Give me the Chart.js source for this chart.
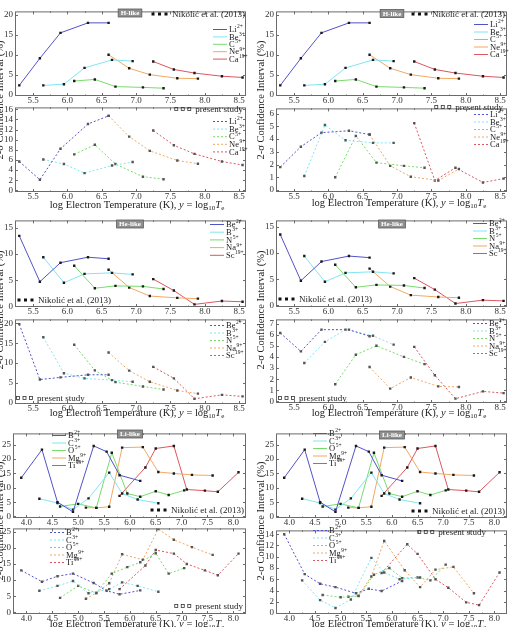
<!DOCTYPE html>
<html>
<head>
<meta charset="utf-8">
<script src="https://cdn.jsdelivr.net/npm/chart.js@4.4.1/dist/chart.umd.min.js"></script>
<style>
  body { margin: 0; background: #fff; width: 509px; height: 627px; overflow: hidden; position: relative; font-family: "Liberation Serif", serif; }
  canvas { position: absolute; }
  .ytitle { position: absolute; white-space: nowrap; font-size: 10.5px; line-height: 1; color: #222; transform: translate(-50%, -50%) rotate(-90deg); }
  .xtitle { position: absolute; white-space: nowrap; font-size: 10.5px; line-height: 1; color: #222; transform: translate(-50%, -50%); }
  .xtitle sub { font-size: 7px; line-height: 0; vertical-align: -2px; }
</style>
</head>
<body>
<script>
// ---- data (log10 Te and 2-sigma CI in %) ----
const hIons = [['Li', '2+'], ['Be', '3+'], ['C', '5+'], ['Ne', '9+'], ['Ca', '19+']]
const heIons = [['Be', '2+'], ['B', '3+'], ['N', '5+'], ['Na', '9+'], ['Sc', '19+']]
const liIons = [['B', '2+'], ['C', '3+'], ['O', '5+'], ['Mg', '9+'], ['Ti', '19+']]

const hTemps = [
  [5.3, 5.6, 5.9, 6.3, 6.6],
  [5.65, 5.95, 6.25, 6.65, 6.95],
  [6.1, 6.4, 6.7, 7.1, 7.4],
  [6.6, 6.9, 7.2, 7.6, 7.9],
  [7.25, 7.55, 7.85, 8.25, 8.55]
]
const heTemps = hTemps
const liTemps = [
  [3.9, 4.3, 4.6, 4.9, 5.3, 5.55, 5.8, 6.2],
  [4.25, 4.6, 4.9, 5.2, 5.6, 5.85, 6.15, 6.55],
  [4.65, 5.0, 5.35, 5.65, 5.95, 6.2, 6.5, 6.75, 7.05],
  [5.15, 5.35, 5.6, 5.85, 6.25, 6.55, 6.85, 7.2, 7.6],
  [5.8, 6.3, 6.5, 6.85, 7.1, 7.45, 7.7, 8.1]
]

const hNikolic = [
  [2.3, 9.1, 15.5, 18.0, 18.0],
  [2.3, 2.6, 6.7, 8.7, 8.4],
  [3.4, 3.8, 2.0, 1.8, 1.6],
  [10.0, 6.6, 5.0, 4.1, 4.0],
  [8.3, 6.3, 5.4, 4.6, 4.3]
]
const hPresentLeft = [
  [5.7, 2.1, 8.2, 13.1, 14.7],
  [6.1, 5.2, 3.4, 4.9, 5.6],
  [7.1, 9.0, 5.2, 2.7, 2.2],
  [14.7, 10.6, 7.8, 5.9, 5.25],
  [11.8, 8.9, 7.2, 5.7, 5.0]
]
const hPresentRight = [
  [1.8, 3.4, 4.5, 4.65, 4.35],
  [1.1, 5.1, 3.9, 3.7, 3.7],
  [1.0, 4.25, 2.15, 1.9, 1.75],
  [4.35, 1.9, 1.05, 0.75, 1.65],
  [5.25, 0.75, 1.75, 0.6, 0.9]
]

const heNikolic = [
  [13.5, 4.7, 8.35, 9.4, 9.1],
  [9.4, 4.5, 6.2, 6.4, 6.1],
  [7.75, 3.45, 3.9, 3.8, 3.3],
  [7.0, 3.6, 1.95, 1.6, 1.45],
  [5.2, 3.0, 0.35, 1.0, 0.85]
]
const hePresentLeft = [
  [19.8, 5.85, 6.4, 7.05, 7.05],
  [16.5, 7.45, 6.15, 5.7, 5.3],
  [14.6, 8.15, 5.2, 4.1, 3.35],
  [12.65, 8.1, 5.3, 3.1, 2.3],
  [9.05, 6.15, 1.0, 2.0, 1.6]
]
const hePresentRight = [
  [6.15, 4.5, 6.45, 6.45, 5.85],
  [3.45, 5.35, 6.45, 5.9, 5.1],
  [1.55, 4.2, 5.0, 4.0, 3.35],
  [3.1, 1.15, 2.15, 1.35, 1.3],
  [4.9, 2.35, 0.25, 0.9, 0.75]
]

const liNikolic = [
  [13.5, 23.3, 5.0, 1.6, 24.6, 22.6, 14.4, 12.4],
  [6.2, 4.7, 2.4, 6.3, 15.3, 8.0, 5.9, 4.6],
  [3.5, 4.4, 3.0, 22.2, 8.0, 6.9, 8.8, 7.5, 9.1],
  [3.1, 3.0, 3.4, 24.0, 24.2, 15.5, 15.0, 14.5, 14.3],
  [7.2, 17.1, 23.7, 24.6, 9.4, 9.0, 8.6, 15.4]
]
const liPresentLeft = [
  [13.0, 9.5, 11.2, 12.0, 9.1, 6.7, 5.6, 6.8],
  [6.7, 8.2, 9.7, 5.9, 7.2, 9.3, 8.2, 6.4],
  [4.5, 8.2, 6.0, 12.0, 14.0, 15.5, 18.3, 12.0, 13.7],
  [4.2, 6.0, 9.0, 18.0, 16.3, 25.8, 22.5, 20.2, 17.8],
  [7.2, 14.5, 19.3, 18.2, 15.0, 13.0, 11.5, 18.2]
]
const liPresentRight = [
  [14.0, 6.9, 5.2, 4.6, 3.5, 4.3, 3.9, 5.7],
  [5.8, 2.3, 0.9, 2.4, 9.8, 7.2, 6.0, 6.3],
  [3.2, 2.8, 3.0, 6.8, 8.0, 6.2, 6.3, 5.8, 8.6],
  [2.9, 3.1, 6.5, 12.8, 7.6, 4.6, 7.7, 8.2, 3.5],
  [7.1, 12.2, 10.5, 6.0, 4.5, 1.9, 1.4, 7.2]
]

const hxTicks = [5.5, 6.0, 6.5, 7.0, 7.5, 8.0, 8.5]
const lixTicks = [4.0, 4.5, 5.0, 5.5, 6.0, 6.5, 7.0, 7.5, 8.0]

// ---- styling ----
const ionColors = ['#5252c8', '#80e6f2', '#78dc6c', '#f2a860', '#dc5660']
const FONT = '"Liberation Serif", serif'
const ML = 22, MT = 3, MR = 3, MB = 12

const decoPlugin = {
  id: 'deco',
  afterDraw (chart, args, o) {
    const { ctx, chartArea: a, scales: { x, y } } = chart
    const ox = o.left, oy = o.top
    ctx.save()
    // frame with inward ticks
    ctx.strokeStyle = '#6b6b6b'
    ctx.lineWidth = 1
    ctx.strokeRect(a.left + 0.5, a.top + 0.5, a.right - a.left - 1, a.bottom - a.top - 1)
    ctx.beginPath()
    const xt = x.ticks.map(t => t.value)
    xt.forEach((v, i) => {
      const px = Math.round(x.getPixelForValue(v)) + 0.5
      ctx.moveTo(px, a.bottom); ctx.lineTo(px, a.bottom - 3)
      ctx.moveTo(px, a.top); ctx.lineTo(px, a.top + 3)
      if (i < xt.length - 1) {
        const mx = Math.round(x.getPixelForValue((v + xt[i + 1]) / 2)) + 0.5
        ctx.moveTo(mx, a.bottom); ctx.lineTo(mx, a.bottom - 1.5)
        ctx.moveTo(mx, a.top); ctx.lineTo(mx, a.top + 1.5)
      }
    })
    y.ticks.forEach(t => {
      const py = Math.round(y.getPixelForValue(t.value)) + 0.5
      ctx.moveTo(a.left, py); ctx.lineTo(a.left + 3, py)
      ctx.moveTo(a.right, py); ctx.lineTo(a.right - 3, py)
    })
    ctx.stroke()

    ctx.textBaseline = 'middle'
    // ion legend
    const L = o.ions
    chart.data.datasets.forEach((ds, i) => {
      const ly = L.y + i * L.dy - oy
      const lx = L.x - ox
      ctx.strokeStyle = ds.borderColor
      ctx.lineWidth = 1
      ctx.setLineDash(o.dashed ? [2, 2] : [])
      ctx.beginPath(); ctx.moveTo(lx, ly + 0.5); ctx.lineTo(lx + 14, ly + 0.5); ctx.stroke()
      ctx.setLineDash([])
      ctx.fillStyle = '#222'
      ctx.textAlign = 'left'
      ctx.font = '8.5px ' + FONT
      ctx.fillText(ds.ion[0], lx + 16, ly + 1)
      const w = ctx.measureText(ds.ion[0]).width
      ctx.font = '5.5px ' + FONT
      ctx.fillText(ds.ion[1], lx + 16 + w + 0.5, ly - 2)
    })

    // reference legend (squares + text)
    const R = o.ref
    ctx.font = '9px ' + FONT
    ctx.fillStyle = '#222'
    const tw = ctx.measureText(R.text).width
    const sqW = 18
    const sx = R.align === 'right' ? R.x - ox - tw - sqW - 3 : R.x - ox
    const ry = R.y - oy
    for (let k = 0; k < 3; k++) {
      const cx = sx + 2 + k * 6.5
      if (R.filled) {
        ctx.fillStyle = '#111'
        ctx.fillRect(cx - 1.5, ry - 1.5, 3, 3)
      } else {
        ctx.strokeStyle = '#333'
        ctx.lineWidth = 0.8
        ctx.strokeRect(cx - 1.5, ry - 1.5, 3, 3)
      }
    }
    ctx.fillStyle = '#222'
    ctx.textAlign = 'left'
    ctx.fillText(R.text, sx + sqW + 3, ry + 0.5)

    // series tag box
    if (o.tag) {
      ctx.font = 'bold 7px ' + FONT
      const w = ctx.measureText(o.tag.text).width + 5
      const tx = o.tag.x - ox, ty = o.tag.y - oy
      ctx.fillStyle = '#8f8f8f'
      ctx.fillRect(tx - w / 2, ty - 4, w, 8)
      ctx.strokeStyle = '#5a5a5a'
      ctx.lineWidth = 0.8
      ctx.strokeRect(tx - w / 2, ty - 4, w, 8)
      ctx.fillStyle = '#fff'
      ctx.textAlign = 'center'
      ctx.fillText(o.tag.text, tx, ty + 0.5)
    }
    ctx.restore()
  }
}

function makePlot (p) {
  const canvas = document.createElement('canvas')
  const left = p.box[0] - ML, top = p.box[1] - MT
  canvas.width = p.box[2] - p.box[0] + ML + MR
  canvas.height = p.box[3] - p.box[1] + MT + MB
  canvas.style.left = left + 'px'
  canvas.style.top = top + 'px'
  document.body.appendChild(canvas)

  const datasets = p.ions.map((ion, i) => ({
    label: ion.join(''),
    ion: ion,
    data: p.temps[i].map((t, j) => ({ x: t, y: p.vals[i][j] })),
    borderColor: ionColors[i],
    borderWidth: 1,
    borderDash: p.dashed ? [2, 2] : [],
    pointStyle: 'rect',
    pointRadius: 1.7,
    pointBackgroundColor: p.dashed ? '#555' : '#1a1a1a',
    pointBorderWidth: 0,
    tension: 0,
    fill: false
  }))

  new Chart(canvas, {
    type: 'line',
    data: { datasets },
    options: {
      responsive: false,
      animation: false,
      devicePixelRatio: 1,
      layout: { autoPadding: false, padding: { left: 0, top: MT, right: MR, bottom: 0 } },
      plugins: {
        legend: { display: false },
        tooltip: { enabled: false },
        deco: { left, top, ions: p.legend, ref: p.ref, tag: p.tag, dashed: p.dashed }
      },
      scales: {
        x: {
          type: 'linear',
          min: p.xr[0],
          max: p.xr[1],
          afterBuildTicks: s => { s.ticks = p.xTicks.map(v => ({ value: v })) },
          afterFit: s => { s.height = MB },
          grid: { display: false, drawTicks: false },
          border: { display: false },
          ticks: { font: { family: FONT, size: 9 }, color: '#333', padding: -1, maxRotation: 0, autoSkip: false, callback: v => v.toFixed(1) }
        },
        y: {
          min: p.yr[0],
          max: p.yr[1],
          afterBuildTicks: s => { s.ticks = p.yTicks.map(v => ({ value: v })) },
          afterFit: s => { s.width = ML },
          grid: { display: false, drawTicks: false },
          border: { display: false },
          ticks: { font: { family: FONT, size: 9 }, color: '#333', padding: 2, autoSkip: false, callback: v => String(v) }
        }
      }
    },
    plugins: [decoPlugin]
  })
}

const range = (a, b, s) => { const r = []; for (let v = a; v <= b + 1e-9; v += s) r.push(v); return r }
const hX = [5.238, 8.6]
const liX = [3.74, 8.245]
const NIK = 'Nikolić et al. (2013)'
const PS = 'present study'

const plots = [
  // H-like
  { box: [15, 7, 246, 96], xr: hX, yr: [-0.36, 20.88], yTicks: range(0, 20, 5), xTicks: hxTicks, ions: hIons, temps: hTemps, vals: hNikolic,
    legend: { x: 213, y: 29, dy: 7.4 }, ref: { text: NIK, x: 245, y: 14, align: 'right', filled: true }, tag: { text: 'H-like', x: 130, y: 13 } },
  { box: [15, 103, 246, 192], xr: hX, yr: [-0.32, 16.37], yTicks: range(0, 16, 2), xTicks: hxTicks, ions: hIons, temps: hTemps, vals: hPresentLeft, dashed: true,
    legend: { x: 213, y: 121, dy: 7.6 }, ref: { text: PS, x: 243, y: 109, align: 'right', filled: false } },
  { box: [276, 7, 507, 96], xr: hX, yr: [-0.36, 20.88], yTicks: range(0, 20, 5), xTicks: hxTicks, ions: hIons, temps: hTemps, vals: hNikolic,
    legend: { x: 474, y: 24, dy: 7.5 }, ref: { text: NIK, x: 505, y: 14, align: 'right', filled: true }, tag: { text: 'H-like', x: 392, y: 13.5 } },
  { box: [276, 104, 507, 192], xr: hX, yr: [-0.15, 6.4], yTicks: range(0, 6, 1), xTicks: hxTicks, ions: hIons, temps: hTemps, vals: hPresentRight, dashed: true,
    legend: { x: 474, y: 114, dy: 7.5 }, ref: { text: PS, x: 503, y: 107, align: 'right', filled: false } },
  // He-like
  { box: [15, 216, 246, 307], xr: hX, yr: [-0.15, 16.46], yTicks: range(0, 15, 5), xTicks: hxTicks, ions: heIons, temps: heTemps, vals: heNikolic,
    legend: { x: 210, y: 224, dy: 7.7 }, ref: { text: NIK, x: 17, y: 300, align: 'left', filled: true }, tag: { text: 'He-like', x: 130, y: 224 } },
  { box: [15, 315, 246, 404], xr: hX, yr: [-0.31, 21.0], yTicks: range(0, 20, 5), xTicks: hxTicks, ions: heIons, temps: heTemps, vals: hePresentLeft, dashed: true,
    legend: { x: 210, y: 325, dy: 7.5 }, ref: { text: PS, x: 16, y: 398, align: 'left', filled: false } },
  { box: [276, 216, 507, 307], xr: hX, yr: [-0.31, 16.2], yTicks: range(0, 15, 5), xTicks: hxTicks, ions: heIons, temps: heTemps, vals: heNikolic,
    legend: { x: 473, y: 223, dy: 7.5 }, ref: { text: NIK, x: 278, y: 299, align: 'left', filled: true }, tag: { text: 'He-like', x: 392, y: 224 } },
  { box: [276, 315, 507, 403], xr: hX, yr: [-0.14, 7.37], yTicks: range(0, 7, 1), xTicks: hxTicks, ions: heIons, temps: heTemps, vals: hePresentRight, dashed: true,
    legend: { x: 473, y: 323, dy: 7.5 }, ref: { text: PS, x: 278, y: 398, align: 'left', filled: false } },
  // Li-like
  { box: [13, 429, 246, 518], xr: liX, yr: [-0.53, 28.97], yTicks: range(0, 25, 5), xTicks: lixTicks, ions: liIons, temps: liTemps, vals: liNikolic,
    legend: { x: 52, y: 435, dy: 7.5 }, ref: { text: NIK, x: 244, y: 510, align: 'right', filled: true }, tag: { text: 'Li-like', x: 130, y: 434 } },
  { box: [13, 524, 246, 614], xr: liX, yr: [-0.5, 26.0], yTicks: range(0, 25, 5), xTicks: lixTicks, ions: liIons, temps: liTemps, vals: liPresentLeft, dashed: true,
    legend: { x: 50, y: 532, dy: 7.5 }, ref: { text: PS, x: 243, y: 606, align: 'right', filled: false } },
  { box: [276, 429, 507, 518], xr: liX, yr: [-0.53, 28.97], yTicks: range(0, 25, 5), xTicks: lixTicks, ions: liIons, temps: liTemps, vals: liNikolic,
    legend: { x: 313, y: 433, dy: 7.5 }, ref: { text: NIK, x: 505, y: 511, align: 'right', filled: true }, tag: { text: 'Li-like', x: 392, y: 435 } },
  { box: [276, 526, 507, 614], xr: liX, yr: [-0.17, 14.67], yTicks: range(0, 14, 2), xTicks: lixTicks, ions: liIons, temps: liTemps, vals: liPresentRight, dashed: true,
    legend: { x: 313, y: 530, dy: 7.5 }, ref: { text: PS, x: 486, y: 532, align: 'right', filled: false } }
]
plots.forEach(makePlot)

// axis titles shared by each pair of subplots
const xTitleHtml = 'log Electron Temperature (K), <i>y</i> = log<sub>10</sub><i>T</i><sub>e</sub>'
const yTitleText = '2-σ Confidence Interval (%)'
;[[0, 100], [261, 100], [0, 310], [261, 310], [0, 521], [261, 521]].forEach(([cx, cy]) => {
  const d = document.createElement('div')
  d.className = 'ytitle'
  d.style.left = cx + 'px'
  d.style.top = cy + 'px'
  d.textContent = yTitleText
  document.body.appendChild(d)
})
;[[137, 205], [399, 203], [137, 413], [399, 413], [137, 624], [399, 624]].forEach(([cx, cy]) => {
  const d = document.createElement('div')
  d.className = 'xtitle'
  d.style.left = cx + 'px'
  d.style.top = cy + 'px'
  d.innerHTML = xTitleHtml
  document.body.appendChild(d)
})
</script>
</body>
</html>
